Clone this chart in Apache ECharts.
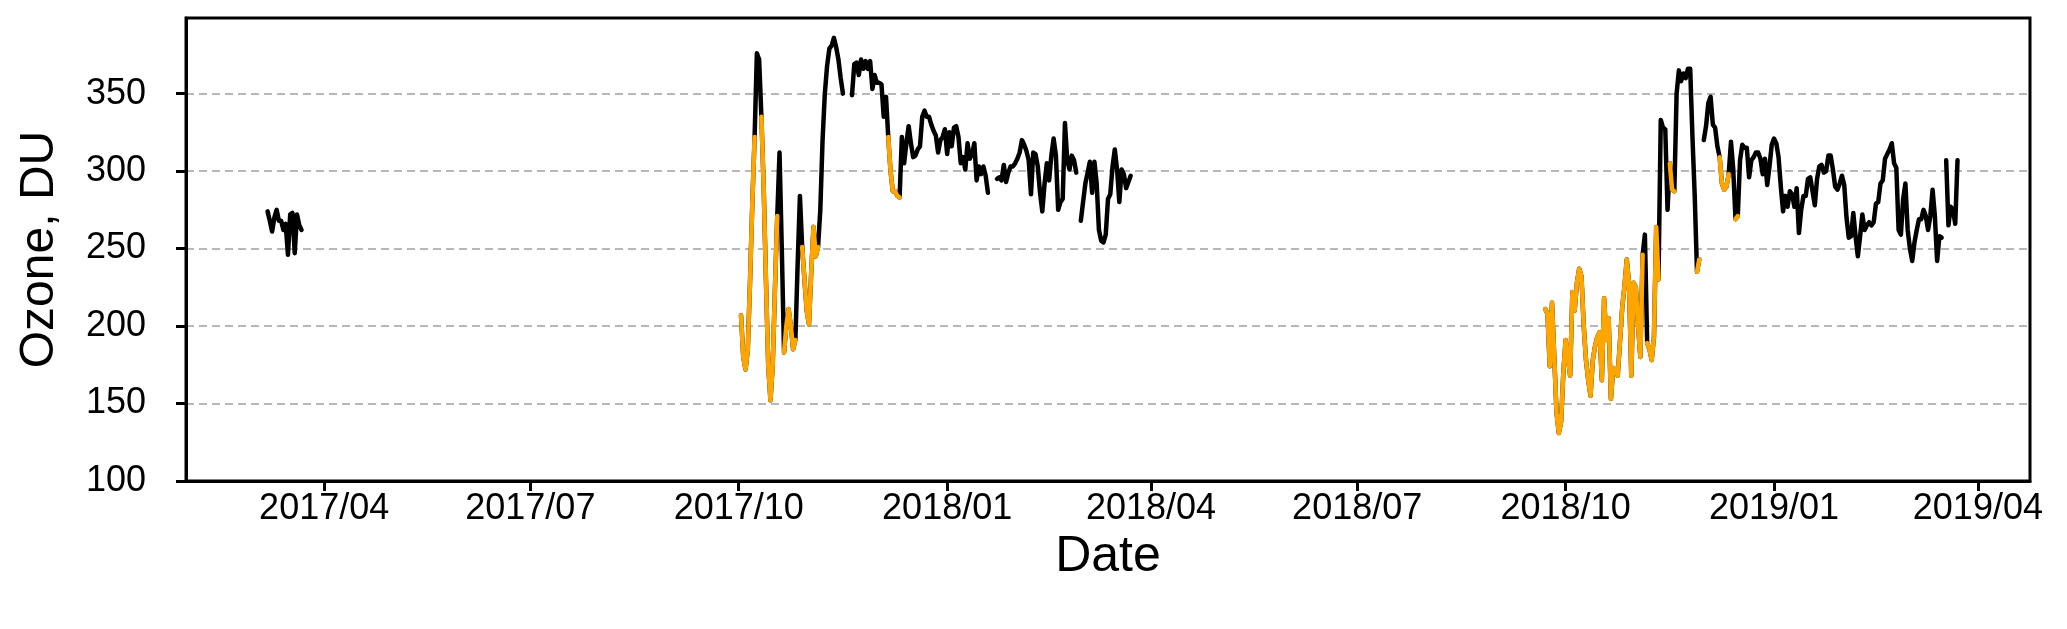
<!DOCTYPE html>
<html>
<head>
<meta charset="utf-8">
<script src="https://cdn.jsdelivr.net/npm/echarts@6/dist/echarts.min.js"></script>
<style>
  html, body { margin: 0; padding: 0; background: #fff; }
  #chart { width: 2067px; height: 629px; }
</style>
</head>
<body>
<div id="chart"></div>
<script>
// daily total ozone (DU), three observation periods, null = missing day
const seg1Start = '2017-03-07'
const seg1Values = [274, 268, 261, 270, 275, 268, 268, 262, 266, 246, 272, 273, 247, 272, 265, 262]

const seg2Start = '2017-10-02'
const seg2Values = [
  207, 180, 172, 185, 230, 280, 322, 376, 372, 335,
  290, 230, 175, 152, 175, 225, 271, 312, 250, 183,
  200, 211, 200, 185, 191, 240, 284, 251, 230, 210,
  201, 235, 264, 245, 251, 275, 320, 350, 368, 379,
  381, 386, 380, 372, 360, 350, null, null, null, 349,
  369, 370, 362, 372, 366, 371, 366, 371, 353, 362,
  357, 357, 356, 335, 348, 322, 300, 287, 287, 284,
  283, 322, 305, 318, 329, 318, 309, 310, 314, 316,
  335, 339, 335, 335, 330, 326, 323, 312, 320, 322,
  327, 311, 325, 316, 328, 329, 322, 305, 309, 301,
  318, 308, 311, 318, 294, 303, 298, 303, 297, 286,
  null, null, null, 295, 296, 294, 304, 293, 299, 303,
  303, 305, 308, 312, 320, 317, 313, 307, 285, 312,
  311, 303, 286, 274, 292, 305, 294, 310, 321, 310,
  275, 280, 282, 331, 307, 301, 310, 307, 299, null,
  268, 280, 292, 299, 306, 286, 306, 292, 262, 255,
  254, 259, 282, 285, 303, 314, 301, 280, 301, 298,
  289, 293, 297
]

const seg3Start = '2018-09-22'
const seg3Values = [
  211, 208, 174, 215, 180, 144, 131, 138, 170, 191,
  180, 168, 222, 210, 228, 237, 232, 200, 178, 165,
  155, 178, 187, 193, 196, 165, 218, 191, 205, 153,
  173, 172, 168, 190, 212, 226, 243, 227, 168, 228,
  225, 200, 180, 246, 259, 189, 185, 178, 193, 264,
  230, 333, 328, 327, 275, 305, 288, 287, 350, 365,
  358, 363, 360, 366, 366, 322, 284, 235, 243, null,
  320, 329, 344, 348, 330, 328, 316, 309, 292, 288,
  290, 298, 319, 301, 269, 271, 307, 317, 315, 315,
  296, 307, 309, 312, 312, 308, 298, 308, 291, 303,
  317, 321, 318, 309, 290, 274, 284, 277, 287, 285,
  277, 289, 260, 275, 284, 284, 295, 296, 287, 278,
  295, 303, 304, 299, 300, 310, 310, 301, 290, 288,
  292, 297, 291, 270, 257, 258, 273, 258, 245, 258,
  272, 262, 265, 267, 265, 267, 279, 280, 292, 294,
  308, 311, 314, 318, 305, 302, 262, 259, 282, 292,
  262, 250, 242, 254, 262, 269, 269, 275, 271, 262,
  271, 288, 271, 242, 258, 257, null, 307, 265, 277,
  275, 266, 307
]

// periods drawn in orange
const orangeRanges = [
  ['2017-10-02', '2017-10-08'],
  ['2017-10-11', '2017-10-18'],
  ['2017-10-21', '2017-10-26'],
  ['2017-10-29', '2017-11-05'],
  ['2017-12-06', '2017-12-11'],
  ['2018-09-22', '2018-11-04'],
  ['2018-11-06', '2018-11-11'],
  ['2018-11-16', '2018-11-18'],
  ['2018-11-28', '2018-11-29'],
  ['2018-12-08', '2018-12-12'],
  ['2018-12-15', '2018-12-16']
]

const xTickLabels = ['2017/04', '2017/07', '2017/10', '2018/01', '2018/04', '2018/07', '2018/10', '2019/01', '2019/04']
const yTickValues = [100, 150, 200, 250, 300, 350]
const xRange = ['2017-01-30', '2019-04-24']
const yRange = [100, 398.8]

const DAY = 86400000
const utc = s => Date.parse(s + 'T00:00:00Z')

function toPoints (start, values) {
  const t0 = utc(start)
  return values.map((v, i) => [t0 + i * DAY, v])
}

const allPoints = []
;[[seg1Start, seg1Values], [seg2Start, seg2Values], [seg3Start, seg3Values]].forEach(([s, v]) => {
  const pts = toPoints(s, v)
  allPoints.push(...pts)
  // break the line between periods
  allPoints.push([pts[pts.length - 1][0] + DAY, null])
})

const ranges = orangeRanges.map(r => [utc(r[0]), utc(r[1])])
const blackData = allPoints.map(p => [p[0], p[1] == null ? '-' : p[1]])
const orangeData = allPoints.map(p => {
  const inside = ranges.some(r => p[0] >= r[0] && p[0] <= r[1])
  return [p[0], inside && p[1] != null ? p[1] : '-']
})

const xTickValues = xTickLabels.map(l => {
  const [y, m] = l.split('/').map(Number)
  return Date.UTC(y, m - 1, 1)
})

function fmtDate (v) {
  const d = new Date(v)
  return d.getUTCFullYear() + '/' + String(d.getUTCMonth() + 1).padStart(2, '0')
}

const FONT = 'Liberation Sans, Arial, Helvetica, sans-serif'

const chart = echarts.init(document.getElementById('chart'), null, { renderer: 'canvas' })
chart.setOption({
  animation: false,
  backgroundColor: '#fff',
  grid: {
    left: 186,
    right: 37,
    top: 18,
    bottom: 148,
    show: true,
    borderColor: '#000',
    borderWidth: 3,
    containLabel: false
  },
  xAxis: {
    type: 'value',
    min: utc(xRange[0]),
    max: utc(xRange[1]),
    name: 'Date',
    nameLocation: 'middle',
    nameGap: 46,
    nameTextStyle: { fontFamily: FONT, fontSize: 50, color: '#000' },
    axisLine: { show: true, lineStyle: { color: '#000', width: 3 } },
    axisTick: { show: true, length: 10, lineStyle: { color: '#000', width: 3 }, customValues: xTickValues },
    axisLabel: {
      customValues: xTickValues,
      formatter: fmtDate,
      fontFamily: FONT,
      fontSize: 36,
      color: '#000',
      margin: 10
    },
    splitLine: { show: false }
  },
  yAxis: {
    type: 'value',
    min: yRange[0],
    max: yRange[1],
    interval: 50,
    name: 'Ozone, DU',
    nameLocation: 'middle',
    nameGap: 122,
    nameTextStyle: { fontFamily: FONT, fontSize: 48, color: '#000' },
    axisLine: { show: true, lineStyle: { color: '#000', width: 3 } },
    axisTick: { show: true, length: 10, lineStyle: { color: '#000', width: 3 }, customValues: yTickValues },
    axisLabel: {
      customValues: yTickValues,
      fontFamily: FONT,
      fontSize: 36,
      color: '#000',
      margin: 40
    },
    splitLine: { show: true, lineStyle: { color: '#b8b8b8', width: 2, type: [8, 5] } }
  },
  series: [
    {
      type: 'line',
      name: 'ozone',
      data: blackData,
      showSymbol: false,
      connectNulls: false,
      lineStyle: { color: '#000', width: 4.5, join: 'round', cap: 'round' },
      z: 2
    },
    {
      type: 'line',
      name: 'flagged',
      data: orangeData,
      showSymbol: false,
      connectNulls: false,
      lineStyle: { color: '#ffa500', width: 4.5, join: 'round', cap: 'round' },
      z: 3
    }
  ]
})
</script>
</body>
</html>
